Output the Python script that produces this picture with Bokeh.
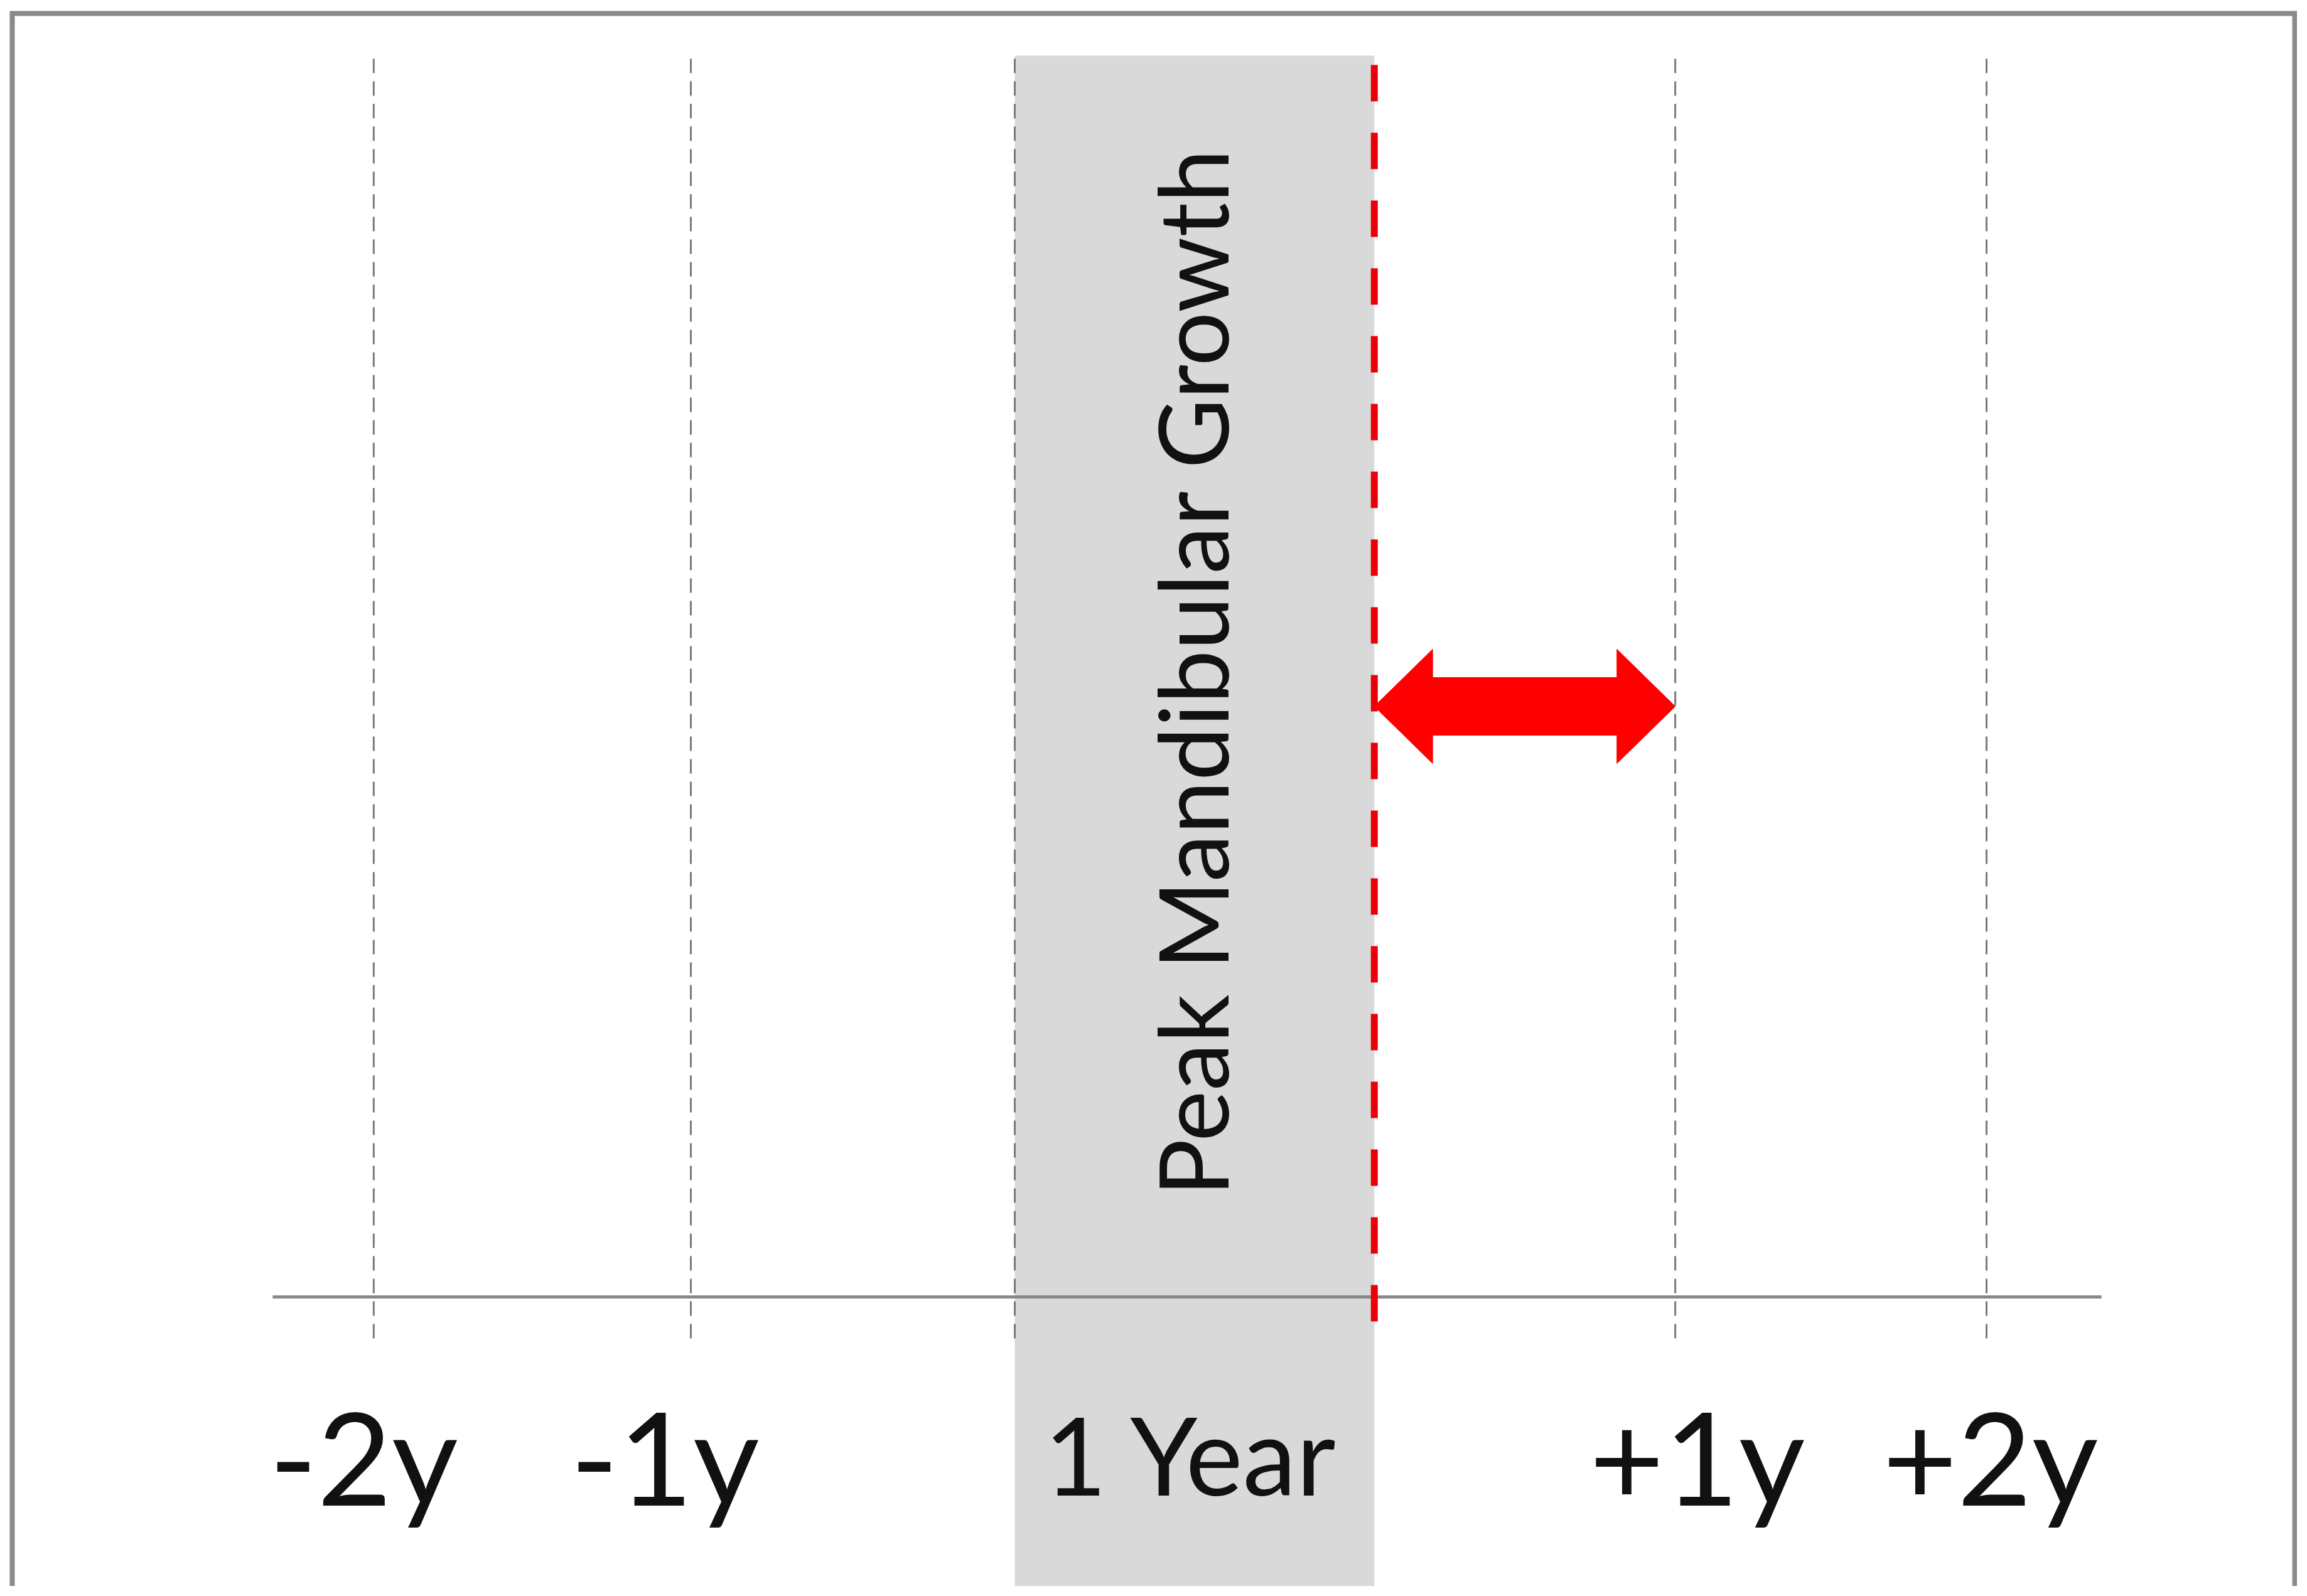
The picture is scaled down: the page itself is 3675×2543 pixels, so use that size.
from bokeh.plotting import figure
from bokeh.models import Range1d
from bokeh.core.properties import value
from bokeh.embed import file_html
from bokeh.resources import INLINE

# ---- data (x in schematic "year" units, origin at start of the peak-growth year) ----
grid_x = [-1.979, -1.0, 0.0, 2.039, 3.0]
grid_top = 9.89
grid_bottom = -0.33

band_left = 0.0
band_right = 1.11
band_top = 9.89
band_bottom = -3.0

peak_x = 1.11
peak_top = 9.89
peak_bottom = -0.195

axis_x = [-2.291, 3.355]
axis_y = 0.0

tick_labels = ["-2y", "-1y", "+1y", "+2y"]
tick_label_x = [-2.01, -1.08, 2.107, 3.012]
tick_label_y = -1.265

band_label = "1 Year"
band_label_x = 0.547
band_label_y = -1.25

rot_label = "Peak Mandibular Growth"
rot_label_x = 0.545
rot_label_y = 4.98

arrow_from = 1.11
arrow_to = 2.039
arrow_y = 4.705

frame_left = -3.095
frame_right = 3.9516
frame_top = 10.225

# ---- figure ----
p = figure(width=3659, height=2527,
           x_range=Range1d(-3.1318, 3.9593), y_range=Range1d(-2.305, 10.33),
           output_backend="svg", toolbar_location=None, min_border=0,
           x_axis_location=None, y_axis_location=None)
p.grid.visible = False
p.outline_line_color = None
p.background_fill_color = "white"
p.border_fill_color = "white"

# shaded year band
p.quad(left=[band_left], right=[band_right], bottom=[band_bottom], top=[band_top],
       fill_color="#d9d9d9", line_color=None)

# dashed gray year lines
p.segment(x0=grid_x, y0=[grid_bottom] * len(grid_x), x1=grid_x, y1=[grid_top] * len(grid_x),
          line_color="#7a7a7a", line_width=3, line_dash="23 13")

# horizontal axis line
p.line(x=axis_x, y=[axis_y, axis_y], line_color="#888888", line_width=5)

# red dashed peak line
p.segment(x0=[peak_x], y0=[peak_bottom], x1=[peak_x], y1=[peak_top],
          line_color="#e8000b", line_width=11, line_dash="58 50")

# red double arrow (block arrow)
hl = 0.18     # head length
hh = 0.455    # head half height
sh = 0.23     # shaft half height
x0, x1, y = arrow_from, arrow_to, arrow_y
ax = [x0, x0 + hl, x0 + hl, x1 - hl, x1 - hl, x1, x1 - hl, x1 - hl, x0 + hl, x0 + hl]
ay = [y, y + hh, y + sh, y + sh, y + hh, y, y - hh, y - sh, y - sh, y - hh]
p.patch(x=ax, y=ay, fill_color="#ff0000", line_color="#ff0000", line_width=1)

# rotated label
p.text(x=[rot_label_x], y=[rot_label_y], text=[rot_label], angle=1.5708,
       text_font=value("Lato"), text_font_size=value("153px"), text_color="#111111",
       text_align="center", text_baseline="alphabetic")

# tick labels
p.text(x=tick_label_x, y=[tick_label_y] * len(tick_labels), text=tick_labels,
       text_font=value("Lato"), text_font_size=value("205px"), text_color="#111111",
       text_align="center", text_baseline="alphabetic")

p.text(x=[band_label_x], y=[band_label_y], text=[band_label],
       text_font=value("Lato"), text_font_size=value("172px"), text_color="#111111",
       text_align="center", text_baseline="alphabetic")

# outer frame (top, left, right)
p.line(x=[frame_left, frame_left, frame_right, frame_right],
       y=[band_bottom, frame_top, frame_top, band_bottom],
       line_color="#8a8a8a", line_width=8, line_join="miter")

open("out.html", "w").write(file_html(p, INLINE))
